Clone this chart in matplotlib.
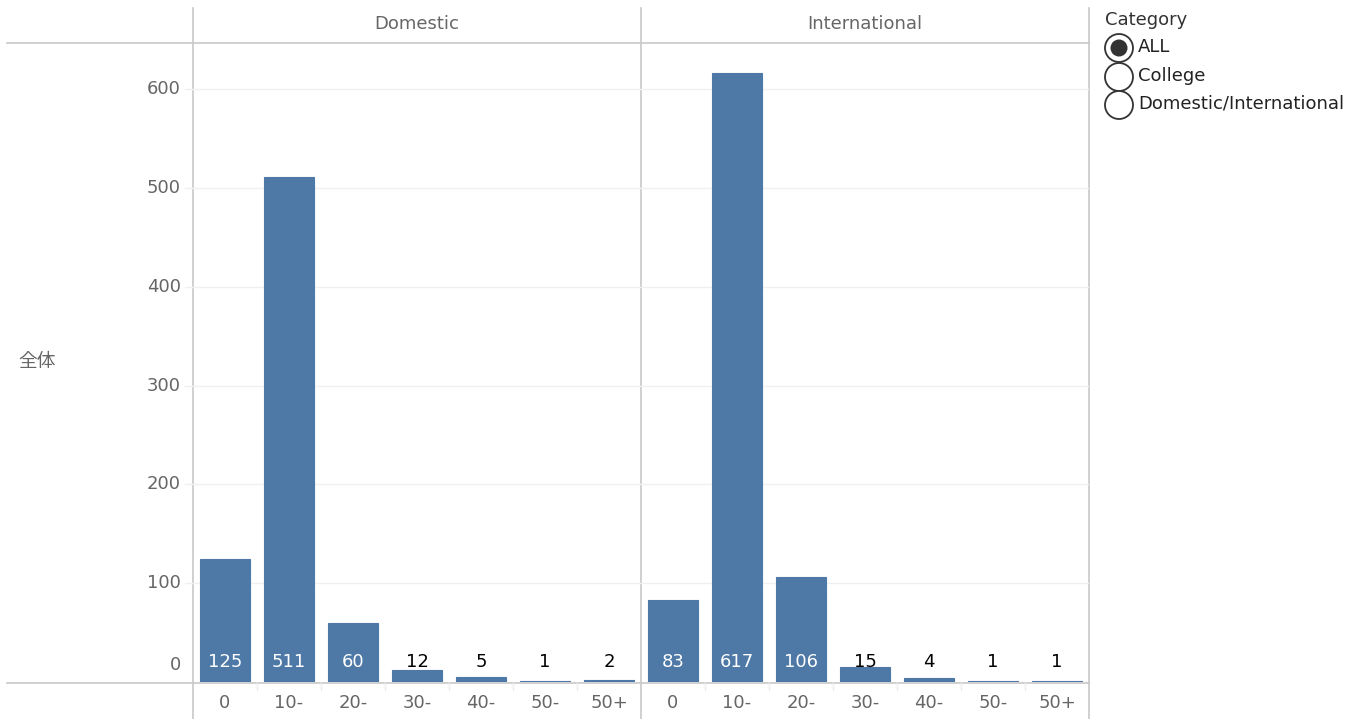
import matplotlib
matplotlib.use("Agg")
import matplotlib.pyplot as plt
from matplotlib.lines import Line2D
from matplotlib.patches import Ellipse

categories = ["0", "10-", "20-", "30-", "40-", "50-", "50+"]
panels = ["Domestic", "International"]
domestic = [125, 511, 60, 12, 5, 1, 2]
international = [83, 617, 106, 15, 4, 1, 1]
yticks = [100, 200, 300, 400, 500, 600]
legend_title = "Category"
legend_items = ["ALL", "College", "Domestic/International"]
row_label = "全体"

W, H = 1362, 719
fig = plt.figure(figsize=(W / 100, H / 100), dpi=100)
plt.rcParams['font.family'] = ['DejaVu Sans']

def fx(px):
    return px / W

def fy(py):
    return 1 - py / H

bar_color = "#4e79a7"
grid_color = "#f0f0f0"
line_color = "#c8c8c8"
text_gray = "#666666"
ymax = 647
FS = 13

top, bottom = 43, 682
panel_x = [(193, 641), (641, 1089)]
for i, (name, vals) in enumerate(zip(panels, [domestic, international])):
    x0, x1 = panel_x[i]
    ax = fig.add_axes([fx(x0), fy(bottom), fx(x1 - x0), (bottom - top) / H])
    ax.patch.set_visible(False)
    xs = list(range(len(categories)))
    ax.bar(xs, vals, width=0.77, color=bar_color, edgecolor=bar_color,
           linewidth=0.8, zorder=3)
    ax.set_xlim(-0.5, len(categories) - 0.5)
    ax.set_ylim(0, ymax)
    for y in yticks:
        ax.axhline(y, color=grid_color, lw=1, zorder=1)
    for x, v in zip(xs, vals):
        white = v > 40
        ax.text(x, 20.5, str(v), ha="center", va="center", fontsize=FS,
                color="white" if white else "black", zorder=4)
    ax.set_xticks([])
    ax.set_yticks([])
    for s in ax.spines.values():
        s.set_visible(False)
    # header
    fig.text(fx((x0 + x1) / 2), fy(24), name, ha="center", va="center",
             fontsize=FS, color=text_gray)
    # category labels
    for x, c in zip(xs, categories):
        px = x0 + (x + 0.5) * (x1 - x0) / len(categories)
        fig.text(fx(px), fy(703), c, ha="center", va="center", fontsize=FS,
                 color=text_gray)
    for k in range(1, len(categories)):
        px = x0 + k * (x1 - x0) / len(categories)
        fig.add_artist(Line2D([fx(px), fx(px)], [fy(683), fy(690)],
                              color="#ececec", lw=1))

# y tick labels
ppu = (bottom - top) / ymax
for y in yticks:
    fig.text(fx(181), fy(bottom - y * ppu), str(y), ha="right", va="center",
             fontsize=FS, color=text_gray)
    fig.add_artist(Line2D([fx(185), fx(193)], [fy(bottom - y * ppu)] * 2,
                          color=grid_color, lw=1))
fig.text(fx(181), fy(665), "0", ha="right", va="center", fontsize=FS,
         color=text_gray)

# row label
fig.text(fx(18), fy(362), row_label, ha="left", va="center", fontsize=13.5,
         color=text_gray, family=["Noto Sans CJK JP", "DejaVu Sans"])

# frame lines
fig.add_artist(Line2D([fx(7), fx(1089)], [fy(43), fy(43)], color=line_color, lw=1.2))
fig.add_artist(Line2D([fx(7), fx(1089)], [fy(682.5), fy(682.5)], color=line_color,
                      lw=1.2, zorder=-1))
for px in [193, 641, 1089]:
    fig.add_artist(Line2D([fx(px), fx(px)], [fy(8), fy(719)], color=line_color,
                          lw=1.2, zorder=-1))

# legend
fig.text(fx(1105), fy(20), legend_title, ha="left", va="center", fontsize=FS,
         color="#333333")
ly = [48, 77, 105]
r = 14
for j, (label, py) in enumerate(zip(legend_items, ly)):
    e = Ellipse((fx(1119), fy(py)), 2 * r / W, 2 * r / H, transform=fig.transFigure,
                facecolor="white", edgecolor="#333333", lw=1.3)
    fig.add_artist(e)
    if j == 0:
        fig.add_artist(Ellipse((fx(1119), fy(py)), 17 / W, 17 / H,
                               transform=fig.transFigure,
                               facecolor="#333333", edgecolor="none"))
    fig.text(fx(1138), fy(py - 1), label, ha="left", va="center", fontsize=FS,
             color="#222222")

fig.savefig("out.png", dpi=100)
